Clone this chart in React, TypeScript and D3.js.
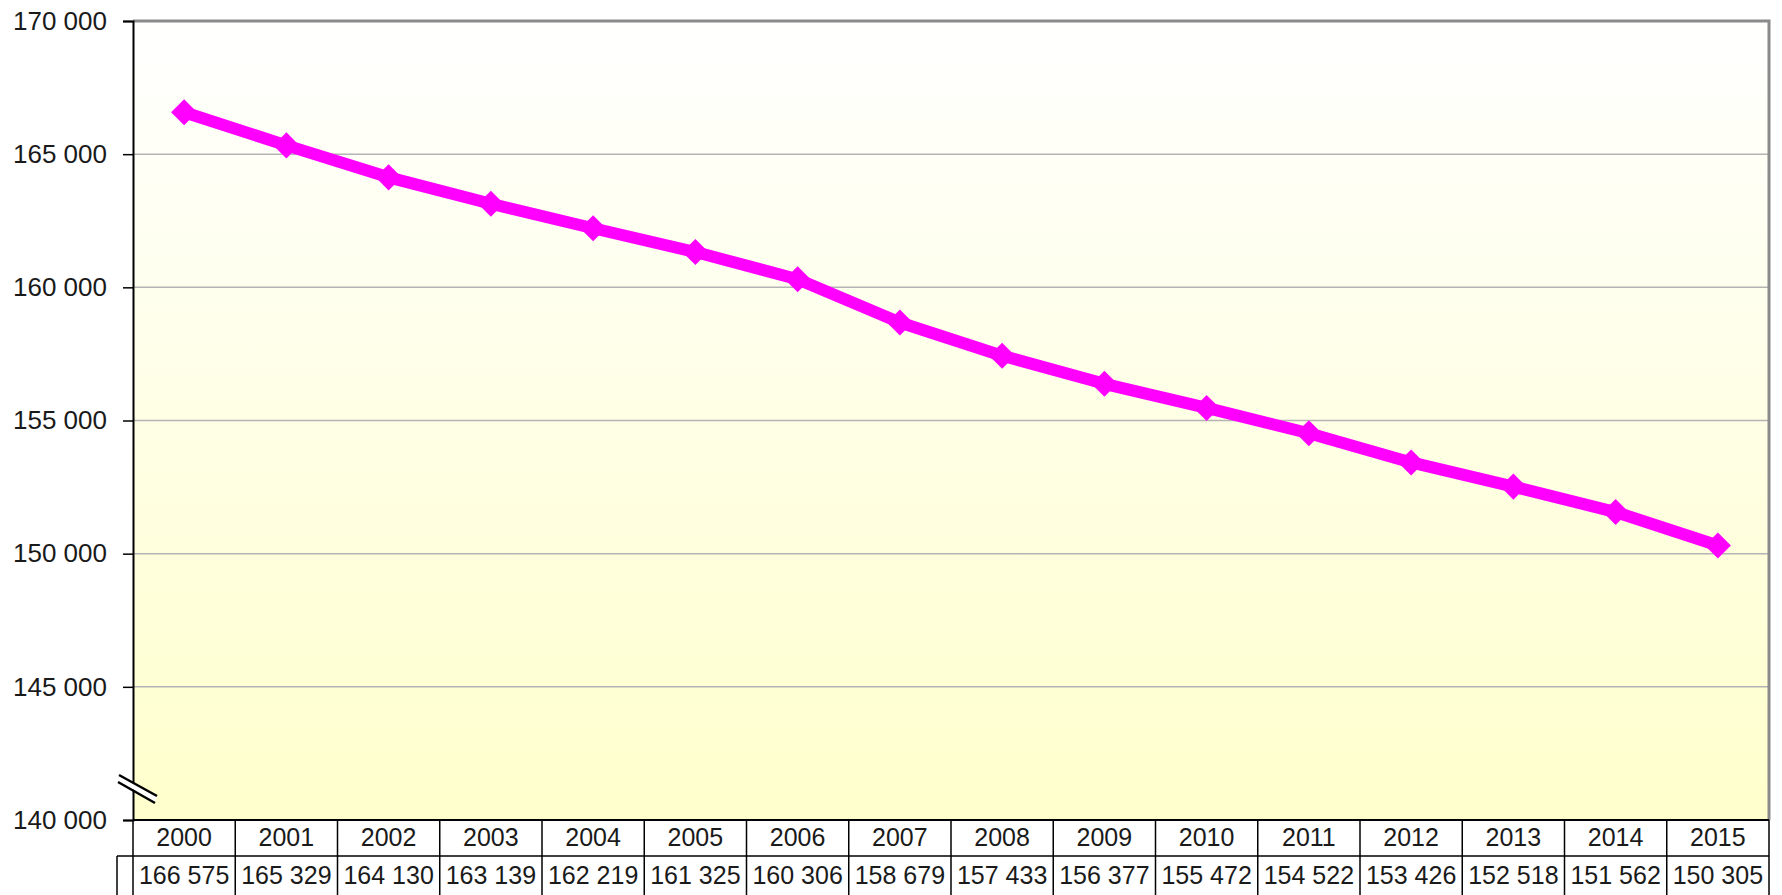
import { useCallback } from "react";
import * as d3 from "d3";

const years = ["2000", "2001", "2002", "2003", "2004", "2005", "2006", "2007", "2008", "2009", "2010", "2011", "2012", "2013", "2014", "2015"];
const population = [166575, 165329, 164130, 163139, 162219, 161325, 160306, 158679, 157433, 156377, 155472, 154522, 153426, 152518, 151562, 150305];
const yTicks = [140000, 145000, 150000, 155000, 160000, 165000, 170000];

const width = 1782;
const height = 895;

const fmt = (v: number) => {
  const s = String(v);
  return s.replace(/\B(?=(\d{3})+(?!\d))/g, " ");
};

const App = () => {
  const draw = useCallback((node: HTMLDivElement | null) => {
    if (node == null) return;
    const root = d3.select(node);
    root.selectAll("*").remove();

    const marginLeft = 133;
    const marginRight = width - 1769;
    const plotTop = 21;
    const plotBottom = 820;
    const row1 = 856; // bottom of year row
    const font = "'Liberation Sans', Arial, sans-serif";

    const svg = root.append("svg")
      .attr("width", width)
      .attr("height", height)
      .attr("viewBox", [0, 0, width, height])
      .style("display", "block");

    const xScale = d3.scaleBand<string>().domain(years).range([marginLeft, width - marginRight]);
    const yScale = d3.scaleLinear().domain([140000, 170000]).range([plotBottom, plotTop]);

    // background gradient
    const defs = svg.append("defs");
    const grad = defs.append("linearGradient")
      .attr("id", "bg")
      .attr("x1", 0).attr("y1", 0).attr("x2", 0).attr("y2", 1);
    grad.append("stop").attr("offset", "0%").attr("stop-color", "#ffffff");
    grad.append("stop").attr("offset", "100%").attr("stop-color", "#ffffcc");

    svg.append("rect")
      .attr("x", marginLeft)
      .attr("y", plotTop)
      .attr("width", width - marginRight - marginLeft)
      .attr("height", plotBottom - plotTop)
      .attr("fill", "url(#bg)");

    // gridlines
    svg.append("g")
      .selectAll("line")
      .data(yTicks.filter(d => d > 140000 && d < 170000))
      .join("line")
      .attr("x1", marginLeft)
      .attr("x2", width - marginRight)
      .attr("y1", d => yScale(d))
      .attr("y2", d => yScale(d))
      .attr("stroke", "#b4b4b4")
      .attr("stroke-width", 1.5);

    // top / right border (gray)
    svg.append("path")
      .attr("d", `M${marginLeft},${plotTop}H${width - marginRight}V${plotBottom}`)
      .attr("fill", "none")
      .attr("stroke", "#8a8a8a")
      .attr("stroke-width", 3);

    // y axis
    const yAxis = d3.axisLeft(yScale)
      .tickValues(yTicks)
      .tickSize(10)
      .tickPadding(16)
      .tickFormat(d => fmt(d as number));
    svg.append("g")
      .attr("transform", `translate(${marginLeft},0)`)
      .call(yAxis)
      .call(g => g.select(".domain").attr("stroke", "#000").attr("stroke-width", 2))
      .call(g => g.selectAll(".tick line").attr("stroke", "#000").attr("stroke-width", 1.5))
      .call(g => g.selectAll(".tick text")
        .attr("font-family", font)
        .attr("font-size", 26)
        .attr("fill", "#1a1a1a"));

    // axis break mark
    const brk = svg.append("g");
    brk.append("path")
      .attr("d", "M119,778L156,799")
      .attr("stroke", "#ffffff")
      .attr("stroke-width", 6);
    brk.append("path")
      .attr("d", "M119,775L157,796")
      .attr("stroke", "#000")
      .attr("stroke-width", 2.5);
    brk.append("path")
      .attr("d", "M118,782L155,803")
      .attr("stroke", "#000")
      .attr("stroke-width", 2.5);

    // data line
    const line = d3.line<number>()
      .x((d, i) => (xScale(years[i]) as number) + xScale.bandwidth() / 2)
      .y(d => yScale(d));

    svg.append("path")
      .attr("d", line(population))
      .attr("fill", "none")
      .attr("stroke", "#ff00ff")
      .attr("stroke-width", 12)
      .attr("stroke-linejoin", "round");

    const marker = d3.symbol().type(d3.symbolSquare).size(340);
    svg.append("g")
      .selectAll("path")
      .data(population)
      .join("path")
      .attr("d", marker() as string)
      .attr("fill", "#ff00ff")
      .attr("transform", (d, i) =>
        `translate(${(xScale(years[i]) as number) + xScale.bandwidth() / 2},${yScale(d)}) rotate(45)`);

    // data table
    const table = svg.append("g");
    table.append("line")
      .attr("x1", marginLeft).attr("x2", width - marginRight)
      .attr("y1", plotBottom).attr("y2", plotBottom)
      .attr("stroke", "#000").attr("stroke-width", 2);
    table.append("line")
      .attr("x1", 117).attr("x2", width - marginRight)
      .attr("y1", row1).attr("y2", row1)
      .attr("stroke", "#000").attr("stroke-width", 1.5);
    table.append("line")
      .attr("x1", 117).attr("x2", 117)
      .attr("y1", row1).attr("y2", height)
      .attr("stroke", "#000").attr("stroke-width", 1.5);

    const edges = years.map(y => xScale(y) as number).concat([width - marginRight]);
    table.selectAll("line.sep")
      .data(edges)
      .join("line")
      .attr("class", "sep")
      .attr("x1", d => d).attr("x2", d => d)
      .attr("y1", plotBottom).attr("y2", height)
      .attr("stroke", "#000").attr("stroke-width", 1.5);

    table.selectAll("text.year")
      .data(years)
      .join("text")
      .attr("class", "year")
      .attr("x", d => (xScale(d) as number) + xScale.bandwidth() / 2)
      .attr("y", 846)
      .attr("text-anchor", "middle")
      .attr("font-family", font)
      .attr("font-size", 25)
      .attr("fill", "#1a1a1a")
      .text(d => d);

    table.selectAll("text.val")
      .data(population)
      .join("text")
      .attr("class", "val")
      .attr("x", (d, i) => (xScale(years[i]) as number) + xScale.bandwidth() / 2)
      .attr("y", 884)
      .attr("text-anchor", "middle")
      .attr("font-family", font)
      .attr("font-size", 25)
      .attr("fill", "#1a1a1a")
      .text(d => fmt(d));
  }, []);

  return (
    <div ref={draw} style={{ position: "absolute", left: 0, top: 0 }}></div>
  );
};

export default App;
